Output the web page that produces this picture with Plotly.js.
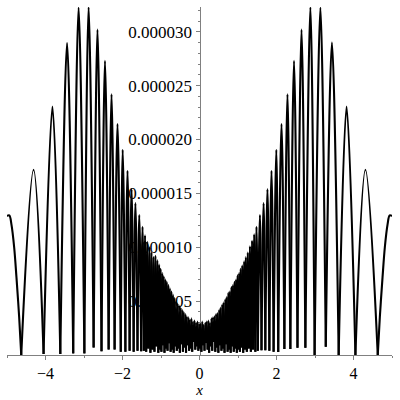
<!DOCTYPE html>
<html>
<head>
<meta charset="utf-8">
<script src="https://cdn.plot.ly/plotly-3.0.1.min.js"></script>
<style>
  html, body { margin: 0; padding: 0; background: #fff; }
  #grafico { width: 400px; height: 400px; }
</style>
</head>
<body>
<div id="grafico"></div>
<script>
// valores, en unidades de 1e-6
// ceros (minimos) de la curva, lado izquierdo
const leftZeroX = [
  -4.63, -4.05, -3.615, -3.28, -2.99, -2.75, -2.545, -2.36, -2.205, -2.045,
  -1.925, -1.815, -1.71, -1.61, -1.515, -1.445, -1.385, -1.33, -1.275, -1.22,
  -1.17, -1.12, -1.07, -1.03, -0.99, -0.95, -0.91, -0.87, -0.83, -0.79,
  -0.75, -0.71, -0.67, -0.63, -0.59, -0.55, -0.51, -0.47, -0.43, -0.39,
  -0.35, -0.31, -0.27, -0.23, -0.19, -0.15, -0.11, -0.07, -0.03
];
const leftZeroY = [
  0, 0.1, 0.1, 0.15, 0.15, 0.7, 0.35, 0.5, 0.5, 0.3,
  0.3, 0.4, 0.3, 0.4, 0.35, 0.4, 0.3, 0.6, 0.2, 0.5,
  0.3, 0.8, 0.2, 0.5, 0.3, 0.9, 0.2, 0.6, 0.4, 1.1,
  0.3, 0.5, 0.2, 0.8, 0.4, 0.6, 0.2, 1.0, 0.3, 0.7,
  0.2, 0.9, 0.4, 0.6, 0.3, 1.2, 0.5, 0.8, 0.4
];
// maximos entre ceros, lado izquierdo
const leftPeakX = [
  -4.31, -3.82, -3.44, -3.14, -2.88, -2.65, -2.455, -2.285, -2.13, -1.995,
  -1.87, -1.765, -1.665, -1.565, -1.48, -1.415, -1.357, -1.30, -1.247, -1.195,
  -1.145, -1.095, -1.05, -1.01, -0.97, -0.93, -0.89, -0.85, -0.81, -0.77,
  -0.73, -0.69, -0.65, -0.61, -0.57, -0.53, -0.49, -0.45, -0.41, -0.37,
  -0.33, -0.29, -0.25, -0.21, -0.17, -0.13, -0.09, -0.05, -0.01
];
const leftPeakY = [
  17.2, 23.06, 28.95, 32.25, 32.3, 30.2, 27.3, 24.2, 21.45, 19.05,
  17.1, 15.4, 14.1, 13.0, 11.9, 11.1, 10.5, 10.0, 9.5, 9.1,
  9.2, 8.8, 8.4, 8.0, 7.6, 7.3, 7.0, 6.8, 6.5, 6.2,
  5.9, 5.6, 5.3, 5.0, 4.8, 4.6, 4.4, 4.2, 4.0, 3.8,
  3.6, 3.5, 3.3, 3.4, 3.1, 3.2, 3.0, 3.1, 2.9
];
// lado derecho
const rightZeroX = [
  0.01, 0.05, 0.09, 0.13, 0.17, 0.21, 0.25, 0.29, 0.33, 0.37,
  0.41, 0.45, 0.49, 0.53, 0.57, 0.61, 0.65, 0.69, 0.73, 0.77,
  0.81, 0.85, 0.89, 0.93, 0.97, 1.01, 1.05, 1.09, 1.135, 1.18,
  1.23, 1.28, 1.335, 1.39, 1.45, 1.515, 1.61, 1.71, 1.815, 1.925,
  2.045, 2.205, 2.36, 2.545, 2.75, 2.99, 3.28, 3.615, 4.05, 4.63
];
const rightZeroY = [
  0.6, 0.3, 0.9, 0.4, 1.1, 0.5, 0.2, 0.8, 0.4, 1.2,
  0.3, 0.7, 0.2, 0.9, 0.4, 0.6, 0.2, 1.0, 0.3, 0.5,
  0.2, 0.8, 0.3, 0.6, 0.2, 0.5, 0.3, 0.7, 0.2, 0.5,
  0.3, 0.6, 0.3, 0.5, 0.3, 0.4, 0.45, 0.45, 0.4, 0.3,
  0.28, 0.55, 0.55, 0.68, 0.68, 0, 0.77, 0, 0, 0
];
const rightPeakX = [
  0.03, 0.07, 0.11, 0.15, 0.19, 0.23, 0.27, 0.31, 0.35, 0.39,
  0.43, 0.47, 0.51, 0.55, 0.59, 0.63, 0.67, 0.71, 0.75, 0.79,
  0.83, 0.87, 0.91, 0.95, 0.99, 1.03, 1.07, 1.11, 1.16, 1.205,
  1.255, 1.31, 1.365, 1.42, 1.48, 1.57, 1.665, 1.765, 1.87, 1.995,
  2.13, 2.285, 2.455, 2.65, 2.88, 3.14, 3.44, 3.82, 4.31
];
const rightPeakY = [
  2.9, 3.1, 2.8, 3.0, 3.1, 3.2, 3.0, 3.4, 3.5, 3.6,
  3.8, 3.9, 4.2, 4.4, 4.7, 4.9, 5.2, 5.4, 5.8, 5.9,
  6.3, 6.5, 6.8, 7.0, 7.4, 7.6, 8.0, 8.3, 8.7, 9.1,
  9.5, 10.1, 10.6, 11.2, 11.9, 13.0, 14.1, 15.4, 17.1, 19.05,
  21.45, 24.2, 27.3, 30.2, 32.3, 32.25, 29.0, 23.06, 17.2
];
// tramos de los extremos (x = -5 y x = 5)
const leftEndX = [-5.0, -4.94, -4.884, -4.814, -4.754, -4.684, -4.63];
const leftEndY = [12.9, 12.95, 12.1, 10.0, 7.2, 3.5, 0];
const rightEndX = [4.63, 4.684, 4.754, 4.814, 4.884, 4.94, 5.0];
const rightEndY = [0, 3.5, 7.2, 10.0, 12.1, 12.95, 12.9];

const xTicks = [-4, -2, 0, 2, 4];
const yTicks = [5, 10, 15, 20, 25, 30];
const yTickText = ['0.000005', '0.000010', '0.000015', '0.000020', '0.000025', '0.000030'];

const zeroX = leftZeroX.concat(rightZeroX);
const zeroY = leftZeroY.concat(rightZeroY);
const peakX = leftPeakX.concat(rightPeakX);
const peakY = leftPeakY.concat(rightPeakY);

// cada arco va por separado para que los minimos queden en punta
const cx = [...leftEndX, null];
const cy = [...leftEndY, null];
for (let i = 0; i < peakX.length; i++) {
    cx.push(zeroX[i], peakX[i], zeroX[i + 1], null);
    cy.push(zeroY[i], peakY[i], zeroY[i + 1], null);
}
cx.push(...rightEndX);
cy.push(...rightEndY);

const familia = 'Liberation Serif';

const trazas = [{
    x: cx,
    y: cy,
    mode: 'lines',
    connectgaps: false,
    line: { color: '#000', width: 2.1, shape: 'spline', smoothing: 1, simplify: false },
    hoverinfo: 'skip'
}];

const layout = {
    width: 400,
    height: 400,
    margin: { l: 7, r: 8, t: 7, b: 45 },
    paper_bgcolor: '#fff',
    plot_bgcolor: '#fff',
    showlegend: false,
    font: { family: familia },
    xaxis: {
        range: [-5, 5],
        tickvals: xTicks,
        ticks: 'outside',
        ticklen: 4,
        tickcolor: '#808080',
        showline: true,
        linecolor: '#808080',
        linewidth: 1,
        showgrid: false,
        zeroline: false,
        tickfont: { family: familia, size: 16, color: '#000' },
        minor: { tickvals: [-5, -3, -1, 1, 3, 5], ticks: 'outside', ticklen: 2, tickcolor: '#808080' },
        title: { text: '<i>x</i>', font: { family: familia, size: 15, color: '#000' }, standoff: 0 }
    },
    yaxis: {
        range: [0, 32.3],
        anchor: 'free',
        position: 0.5,
        side: 'left',
        layer: 'below traces',
        tickvals: yTicks,
        ticktext: yTickText,
        ticks: 'outside',
        ticklen: 4,
        tickcolor: '#808080',
        showline: true,
        linecolor: '#808080',
        linewidth: 1,
        showgrid: false,
        zeroline: false,
        tickfont: { family: familia, size: 17, color: '#000' },
        minor: { dtick: 1, ticks: 'outside', ticklen: 2, tickcolor: '#808080' }
    }
};

Plotly.newPlot('grafico', trazas, layout, { staticPlot: true });
</script>
</body>
</html>
